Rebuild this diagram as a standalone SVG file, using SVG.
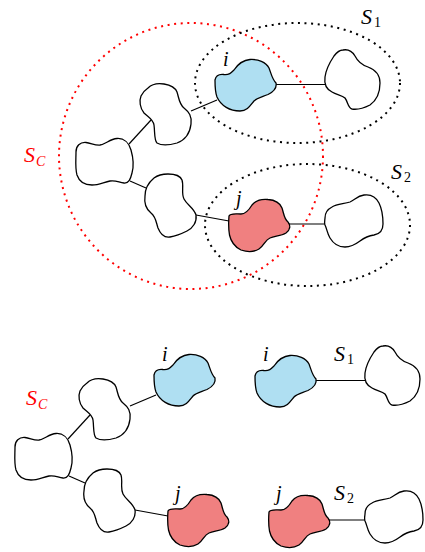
<svg xmlns="http://www.w3.org/2000/svg" width="425" height="552" viewBox="0 0 425 552">
<style>
.blob{stroke:#000;stroke-width:1.3;stroke-linejoin:round}
.w{fill:#fff}
.b{fill:#afdff2}
.r{fill:#f08080}
.edge{stroke:#000;stroke-width:1.2;fill:none}
.dotk{fill:none;stroke:#000;stroke-width:2;stroke-dasharray:2 4.6}
.dotr{fill:none;stroke:#ff0000;stroke-width:2;stroke-dasharray:2 4.6}
.red{fill:#ff0000}
</style>
<defs>
<path id="pI" d="M215,80 C216,75 220,74 224,74.5 C229,75 231,73 234,70 C238,64 243,60 250,59.5 C258,59 266,62 269,68 C271,73 272,79 276,83 C277,88 273,92 268,94.5 C262,97 257,98 254,101 C250,106 247,111 240,111 C230,111 221,106 217,97 C215,92 215,85 215,80 Z"/>
<path id="pS1" d="M343,50 C348,49 352,51 355,56 C358,62 362,65 368,67 C376,70 380,75 380,83 C380,92 377,100 370,105 C364,108 358,110 352,109 C348,108 348,102 345,98 C342,95 337,95 332,92 C326,89 324,84 325,77 C326,68 330,62 334,56 C337,52 340,50 343,50 Z"/>
<path id="pA" d="M148,88 C152,84 158,83 164,84 C170,85 175,87 177,92 C179,98 179,104 184,108 C189,112 192,116 191,124 C190,133 185,140 177,143 C170,145 162,146 157,143 C154,140 155,132 154,125 C153,119 148,117 144,113 C140,108 139,101 141,96 C143,92 145,90 148,88 Z"/>
<path id="pB" d="M76,152 C76,146 80,142 86,142.5 C91,143 95,145.5 100,145 C106,144 110,139 117,138.5 C124,138 129,143 131,150 C133,157 134,166 132,173 C130.5,179 129,183.5 124,183 C119,182.5 116,180 110,181 C104,182 99,185 92,185 C84,185 79,181 77,175 C75,168 76,159 76,152 Z"/>
<path id="pC" d="M154,178 C158,175 163,174 168,174 C174,174 180,175 182,180 C184,186 181,193 184,199 C187,205 194,208 196,215 C197,222 193,228 187,231 C181,234 176,236 170,237 C164,238 160,233 158,228 C156,222 156,217 151,213 C146,209 144,203 145,196 C145,189 148,183 154,178 Z"/>
<path id="pJ" d="M229,216 C230,213 236,214 241,214 C246,214 249,210 252,205 C256,200 263,199 268,199.5 C275,200 280,203 282,208 C284,214 284,219 288,222 C291,226 290,230 286,233 C281,236 275,236 270,238 C265,240 264,246 259,249 C254,252 247,252 241,250 C235,247 231,242 229.5,235 C228.5,229 228.5,222 229,216 Z"/>
<path id="pS2" d="M325,218 C325,213 328,209 332,207 C337,204 344,204 350,202 C355,200 357,196 364,195 C371,194 376,197 379,203 C382,209 383,217 383,224 C383,231 380,234 374,235 C367,236 364,238 360,241 C356,244 351,247 345,247 C338,247 333,243 330,238 C327,233 327,229 325,225 C324,222 325,220 325,218 Z"/>
</defs>

<g id="sets">
<ellipse class="dotr" cx="191" cy="156" rx="132" ry="133"/>
<ellipse class="dotk" cx="297.5" cy="83" rx="102.5" ry="60"/>
<ellipse class="dotk" cx="307.5" cy="225" rx="102.5" ry="61"/>
</g>

<g id="connectors">
<line class="edge" x1="276" y1="84.5" x2="325" y2="84.5"/>
<line class="edge" x1="191" y1="111" x2="217" y2="100"/>
<line class="edge" x1="129" y1="144" x2="151" y2="120"/>
<line class="edge" x1="130" y1="181" x2="146" y2="188"/>
<line class="edge" x1="196" y1="215" x2="229" y2="221"/>
<line class="edge" x1="289" y1="224" x2="325" y2="224"/>
<g transform="translate(-61,295)">
<line class="edge" x1="191" y1="111" x2="217" y2="100"/>
<line class="edge" x1="129" y1="144" x2="151" y2="120"/>
<line class="edge" x1="130" y1="181" x2="146" y2="188"/>
<line class="edge" x1="196" y1="215" x2="229" y2="221"/>
</g>
<g transform="translate(40,296)">
<line class="edge" x1="276" y1="84.5" x2="325" y2="84.5"/>
<line class="edge" x1="289" y1="224" x2="325" y2="224"/>
</g>
</g>

<g id="top-i"><use href="#pI" class="blob b"/></g>
<g id="top-s1"><use href="#pS1" class="blob w"/></g>
<g id="top-a"><use href="#pA" class="blob w"/></g>
<g id="top-b"><use href="#pB" class="blob w"/></g>
<g id="top-c"><use href="#pC" class="blob w"/></g>
<g id="top-j"><use href="#pJ" class="blob r"/></g>
<g id="top-s2"><use href="#pS2" class="blob w"/></g>

<g id="bl-i" transform="translate(-61,295)"><use href="#pI" class="blob b"/></g>
<g id="bl-a" transform="translate(-61,295)"><use href="#pA" class="blob w"/></g>
<g id="bl-b" transform="translate(-61,295)"><use href="#pB" class="blob w"/></g>
<g id="bl-c" transform="translate(-61,295)"><use href="#pC" class="blob w"/></g>
<g id="bl-j" transform="translate(-61,295)"><use href="#pJ" class="blob r"/></g>

<g id="br-i" transform="translate(40,296)"><use href="#pI" class="blob b"/></g>
<g id="br-s1" transform="translate(40,296)"><use href="#pS1" class="blob w"/></g>
<g id="br-j" transform="translate(40,296)"><use href="#pJ" class="blob r"/></g>
<g id="br-s2" transform="translate(40,296)"><use href="#pS2" class="blob w"/></g>

<g id="labels" font-family="'Liberation Serif', 'DejaVu Serif', serif" font-style="italic" fill="#000">
<text font-size="20" x="223" y="65.5">i</text>
<text font-size="20" x="236" y="205">j</text>
<text font-size="22" x="361" y="23.5">S</text><text font-size="14" font-style="normal" x="374" y="26.5">1</text>
<text font-size="22" x="391" y="178.5">S</text><text font-size="14" font-style="normal" x="404" y="181.5">2</text>
<text font-size="22" class="red" x="24" y="162">S</text><text font-size="14" class="red" x="36" y="166">C</text>

<text font-size="20" x="162" y="361">i</text>
<text font-size="20" x="175" y="500">j</text>
<text font-size="20" x="263" y="361">i</text>
<text font-size="20" x="276" y="500">j</text>
<text font-size="22" x="334" y="361">S</text><text font-size="14" font-style="normal" x="347" y="364">1</text>
<text font-size="22" x="334" y="500">S</text><text font-size="14" font-style="normal" x="347" y="503">2</text>
<text font-size="22" class="red" x="26" y="405">S</text><text font-size="14" class="red" x="38" y="409">C</text>
</g>
</svg>
